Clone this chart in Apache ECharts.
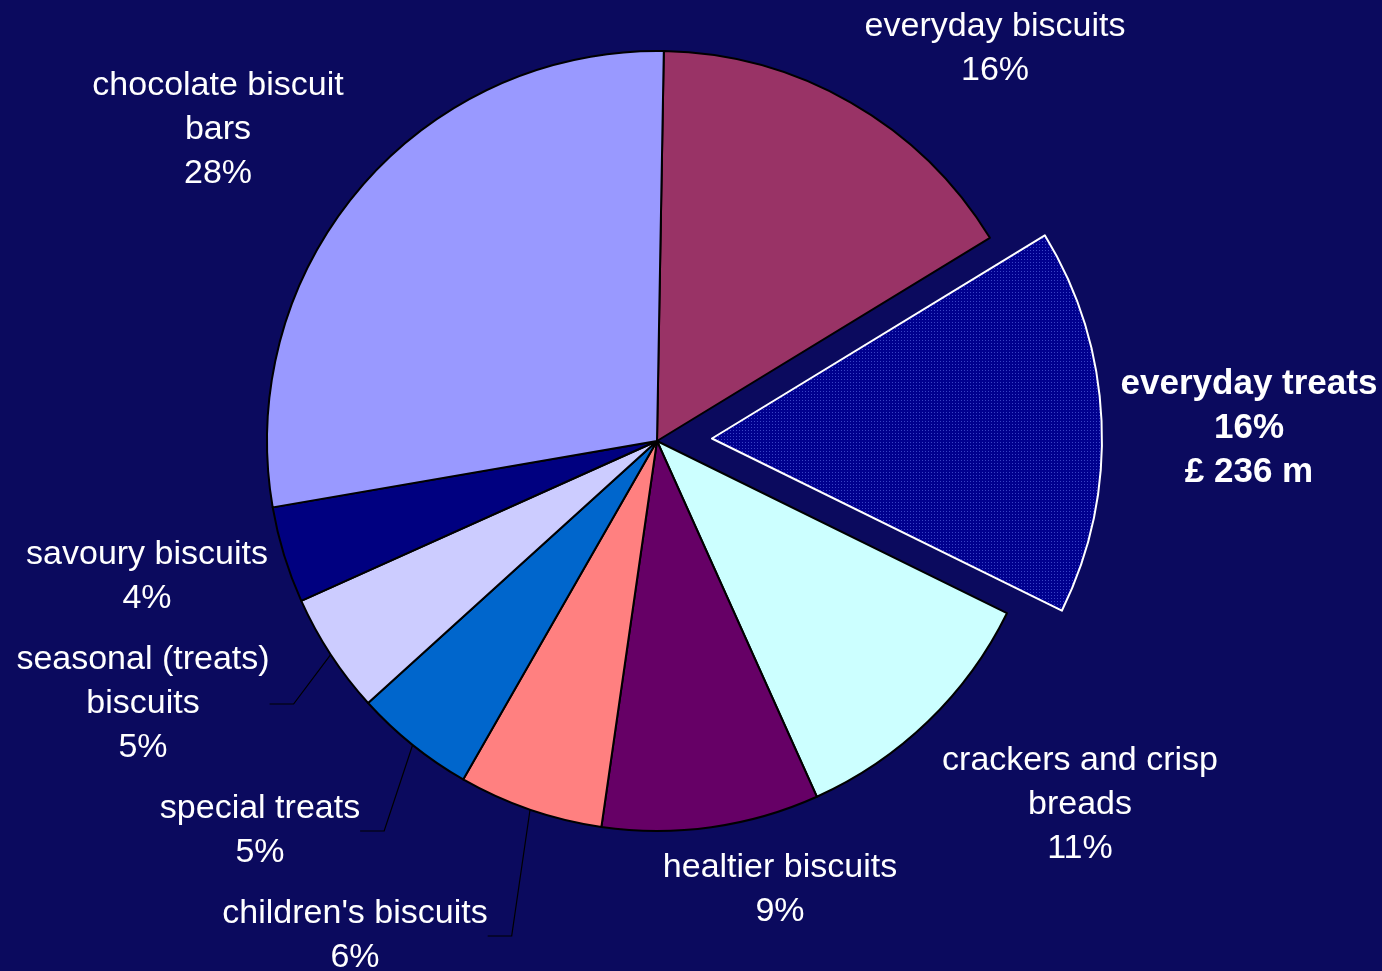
<!DOCTYPE html>
<html>
<head>
<meta charset="utf-8">
<script src="https://cdn.jsdelivr.net/npm/echarts@6/dist/echarts.min.js"></script>
<style>
html,body{margin:0;padding:0;background:#0b0a5e;}
#chart{width:1382px;height:971px;}
</style>
</head>
<body>
<div id="chart"></div>
<script>
// ---- data ----
const categories = [
  'everyday biscuits',
  'everyday treats',
  'crackers and crisp\nbreads',
  'healtier biscuits',
  "children's biscuits",
  'special treats',
  'seasonal (treats)\nbiscuits',
  'savoury biscuits',
  'chocolate biscuit\nbars'
];
const shares = [16, 16, 11, 9, 6, 5, 5, 4, 28];
const extraLines = ['', '£ 236 m', '', '', '', '', '', '', ''];
const highlighted = [false, true, false, false, false, false, false, false, false];
const withLeader = [false, false, false, false, true, true, true, false, false];

// ---- styling / layout ----
const colors = ['#993366', '#000090', '#CCFFFF', '#660066', '#FF8080', '#0066CC', '#CCCCFF', '#000080', '#9999FF'];
const labelCenters = [
  [995, 49], [1249, 428], [1080, 805], [780, 890], [355, 936],
  [260, 831], [143, 704], [147, 577], [218, 130]
];
const pieCenter = [657, 441];
const pieRadius = 390;
const startAngleDeg = 89;     // ECharts convention (90 = 12 o'clock)
const explodeOffset = 55;

// direction of the exploded slice's middle, from the data
const total = shares.reduce((a, b) => a + b, 0);
const hi = highlighted.indexOf(true);
let before = 0;
for (let k = 0; k < hi; k++) before += shares[k];
const midFromNorth = (90 - startAngleDeg) + (before + shares[hi] / 2) / total * 360;
const midRad = midFromNorth * Math.PI / 180;
const explodedCenter = [
  pieCenter[0] + explodeOffset * Math.sin(midRad),
  pieCenter[1] - explodeOffset * Math.cos(midRad)
];

// dotted pattern for the highlighted slice
const pc = document.createElement('canvas');
pc.width = 3; pc.height = 3;
const pctx = pc.getContext('2d');
pctx.fillStyle = '#00008e';
pctx.fillRect(0, 0, 3, 3);
pctx.fillStyle = '#3842c4';
pctx.fillRect(1, 1, 1, 1);
const dotted = { image: pc, repeat: 'repeat' };

function labelText(i) {
  let s = categories[i] + '\n' + shares[i] + '%';
  if (extraLines[i]) s += '\n' + extraLines[i];
  return s;
}

// base pie: every slice except the exploded one
const baseData = categories.map((name, i) => ({
  name: name,
  value: shares[i],
  itemStyle: highlighted[i]
    ? { color: 'rgba(0,0,0,0)', borderWidth: 0 }
    : { color: colors[i], borderColor: '#000000', borderWidth: 2 },
  label: { show: !highlighted[i] },
  labelLine: {
    show: withLeader[i],
    length: 10,
    length2: 24,
    lineStyle: { color: '#000000', width: 1.2 }
  }
}));

// exploded pie: only the highlighted slice visible
const explodedData = categories.map((name, i) => ({
  name: name,
  value: shares[i],
  itemStyle: highlighted[i]
    ? { color: dotted, borderColor: '#ffffff', borderWidth: 2 }
    : { color: 'rgba(0,0,0,0)', borderWidth: 0 },
  label: highlighted[i] ? { show: true, fontWeight: 'bold', fontSize: 35 } : { show: false },
  labelLine: { show: false }
}));

const commonLabel = {
  show: true,
  position: 'outside',
  color: '#ffffff',
  fontFamily: 'Liberation Sans, Arial, sans-serif',
  fontSize: 34,
  lineHeight: 44,
  align: 'center',
  formatter: function (p) { return labelText(p.dataIndex); }
};
const layoutFn = function (params) {
  const c = labelCenters[params.dataIndex];
  return { x: c[0], y: c[1], align: 'center', verticalAlign: 'middle' };
};

const chart = echarts.init(document.getElementById('chart'), null, { renderer: 'canvas' });
chart.setOption({
  backgroundColor: '#0b0a5e',
  animation: false,
  series: [{
    type: 'pie',
    center: pieCenter,
    radius: pieRadius,
    startAngle: startAngleDeg,
    clockwise: true,
    avoidLabelOverlap: false,
    emphasis: { disabled: true },
    label: commonLabel,
    labelLayout: layoutFn,
    data: baseData
  }, {
    type: 'pie',
    center: explodedCenter,
    radius: pieRadius,
    startAngle: startAngleDeg,
    clockwise: true,
    avoidLabelOverlap: false,
    emphasis: { disabled: true },
    label: commonLabel,
    labelLayout: layoutFn,
    data: explodedData
  }]
});
</script>
</body>
</html>
